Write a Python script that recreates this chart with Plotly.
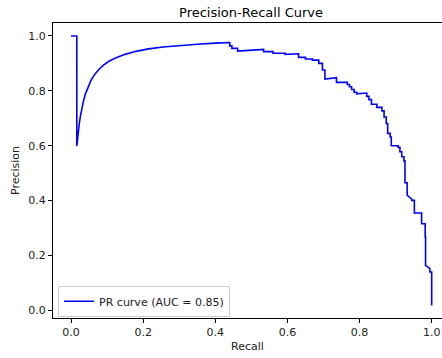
import plotly.graph_objects as go

recall = [
    0.000, 0.016, 0.016,
    0.018, 0.020, 0.023, 0.026, 0.030, 0.035, 0.040, 0.047, 0.055, 0.065,
    0.077, 0.090, 0.105, 0.125, 0.150, 0.180, 0.215, 0.255, 0.300, 0.350,
    0.400, 0.437,
    0.440, 0.440, 0.446, 0.446, 0.462, 0.462, 0.534, 0.534, 0.560, 0.560,
    0.594, 0.594, 0.631, 0.631, 0.650, 0.650, 0.669, 0.669, 0.687, 0.687,
    0.697, 0.697, 0.704, 0.704, 0.736, 0.736, 0.766, 0.766, 0.772, 0.772,
    0.778, 0.778, 0.785, 0.785, 0.792, 0.792, 0.820, 0.820, 0.826, 0.826,
    0.833, 0.833, 0.848, 0.848, 0.862, 0.862, 0.868, 0.868, 0.874, 0.874,
    0.878, 0.878, 0.885, 0.885, 0.888, 0.888, 0.907, 0.907, 0.912, 0.912,
    0.917, 0.917, 0.923, 0.923, 0.926, 0.926, 0.932, 0.932, 0.945, 0.945,
    0.952, 0.952, 0.972, 0.972, 0.982, 0.982, 0.983, 0.983, 0.995, 0.995,
    1.000, 1.000,
]
precision = [
    1.000, 1.000, 0.599,
    0.627, 0.651, 0.682, 0.708, 0.737, 0.766, 0.789, 0.815, 0.837, 0.859,
    0.878, 0.894, 0.908, 0.921, 0.933, 0.944, 0.953, 0.960, 0.966, 0.970,
    0.974, 0.976,
    0.976, 0.964, 0.964, 0.955, 0.955, 0.945, 0.951, 0.943, 0.943, 0.937,
    0.937, 0.933, 0.935, 0.922, 0.922, 0.916, 0.916, 0.912, 0.912, 0.900,
    0.900, 0.876, 0.876, 0.843, 0.848, 0.831, 0.831, 0.823, 0.823, 0.815,
    0.815, 0.805, 0.805, 0.795, 0.795, 0.789, 0.792, 0.780, 0.780, 0.768,
    0.768, 0.751, 0.751, 0.740, 0.740, 0.727, 0.727, 0.705, 0.705, 0.681,
    0.681, 0.645, 0.645, 0.632, 0.632, 0.600, 0.600, 0.594, 0.594, 0.578,
    0.578, 0.560, 0.560, 0.545, 0.545, 0.465, 0.465, 0.420, 0.405, 0.401,
    0.401, 0.355, 0.355, 0.316, 0.316, 0.268, 0.268, 0.164, 0.152, 0.140,
    0.140, 0.018,
]
auc = 0.85
tick_vals = [0.0, 0.2, 0.4, 0.6, 0.8, 1.0]
tick_text = ["0.0", "0.2", "0.4", "0.6", "0.8", "1.0"]

FONT = "DejaVu Sans"

fig = go.Figure()
fig.add_trace(go.Scatter(
    x=recall, y=precision, mode="lines",
    line=dict(color="#0000ff", width=1.6),
    name=f"PR curve (AUC = {auc:.2f})",
))

axis_common = dict(
    showgrid=False, zeroline=False, showline=True, linecolor="black",
    linewidth=1, ticks="outside", ticklen=4, tickwidth=1, tickcolor="black",
    tickfont=dict(family=FONT, size=11, color="#222222"),
)

fig.update_layout(
    width=442, height=358,
    margin=dict(l=53, r=0, t=23, b=40),
    paper_bgcolor="white", plot_bgcolor="white",
    font=dict(family=FONT, size=11, color="#222222"),
    title=dict(text="Precision-Recall Curve", x=251 / 442, xref="container",
               xanchor="center", y=1 - 12 / 358, yref="container",
               yanchor="middle", font=dict(family=FONT, size=13, color="black")),
    xaxis=dict(range=[-0.05, 1.0286], tickvals=tick_vals, ticktext=tick_text,
               mirror=True,
               title=dict(text="Recall", standoff=4,
                          font=dict(family=FONT, size=11, color="#222222")),
               **axis_common),
    yaxis=dict(range=[-0.0277, 1.0473], tickvals=tick_vals, ticktext=tick_text,
               mirror=False,
               title=dict(text="Precision", standoff=6,
                          font=dict(family=FONT, size=11, color="#222222")),
               **axis_common),
    showlegend=True,
    legend=dict(x=0.013, y=0.004, xanchor="left", yanchor="bottom",
                bgcolor="rgba(255,255,255,0.8)", bordercolor="#cccccc",
                borderwidth=1, itemwidth=30,
                font=dict(family=FONT, size=11, color="#222222")),
)

fig.write_html("out.html")
